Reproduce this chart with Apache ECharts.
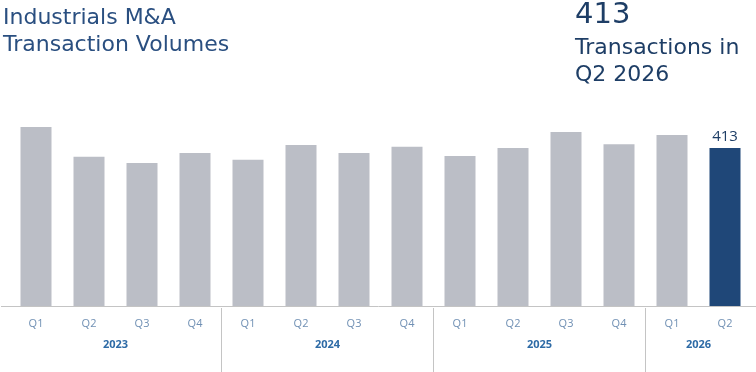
<!DOCTYPE html>
<html><head><meta charset="utf-8">
<script src="https://cdn.jsdelivr.net/npm/echarts@6/dist/echarts.min.js"></script>
<style>html,body{margin:0;padding:0;background:#fff}#c{width:756px;height:372px}</style>
</head><body><div id="c"></div>
<script>
const quarters = ['Q1','Q2','Q3','Q4','Q1','Q2','Q3','Q4','Q1','Q2','Q3','Q4','Q1','Q2'];
const years = ['2023','2024','2025','2026'];
const yearStart = [0,4,8,12];
const yearEnd = [3,7,11,13];
const volumes = [468,390,374,400,382,421,400,416,392,413,455,423,447,413];
const latestValue = 413;
const latestLabel = 'Q2 2026';

const grey = '#BBBEC6', navy = '#1F4778';
const chart = echarts.init(document.getElementById('c'), null, {renderer:'canvas'});
const font = '"Open Sans", sans-serif';
const tfont = '"DejaVu Sans", sans-serif';
chart.setOption({
  animation:false,
  title:[
    {text:'Industrials M&A\nTransaction Volumes', left:3, top:5, padding:0,
     textStyle:{fontFamily:tfont, fontSize:22, fontWeight:'normal', color:'#2A4F80', lineHeight:27}},
    {text:String(latestValue), left:575, top:1, padding:0,
     textStyle:{fontFamily:tfont, fontSize:29, fontWeight:'normal', color:'#1E3E66'}},
    {text:'Transactions in\n' + latestLabel, left:575, top:35, padding:0,
     textStyle:{fontFamily:tfont, fontSize:22, fontWeight:'normal', color:'#1E3E66', lineHeight:27}}
  ],
  grid:{left:9.5, right:4.5, top:114.7, bottom:66, containLabel:false},
  xAxis:{
    type:'category', data:quarters,
    axisLine:{show:false}, axisTick:{show:false},
    axisLabel:{interval:0, margin:12, fontFamily:font, fontSize:11, color:'#7090B4'}
  },
  yAxis:{type:'value', min:0, max:500, show:false, splitLine:{show:false}},
  series:[{
    type:'bar', data:volumes.map((v,i)=>({value:v, itemStyle:{color: i===volumes.length-1?navy:grey},
      label:{show:i===volumes.length-1}})),
    barWidth:31,
    label:{position:'top', distance:4, fontFamily:font, fontSize:15, color:'#1E3E66'}
  }]
});
const y0 = chart.convertToPixel({yAxisIndex:0}, 0);
const gr = [{type:'line', shape:{x1:1, y1:y0+0.5, x2:756, y2:y0+0.5}, style:{stroke:'#C4C4C4', lineWidth:1}, silent:true}];
years.forEach((y,k)=>{
  const xa = chart.convertToPixel({xAxisIndex:0}, yearStart[k]);
  const xb = chart.convertToPixel({xAxisIndex:0}, yearEnd[k]);
  gr.push({type:'text', x:(xa+xb)/2, y:y0+39, style:{text:y, fontFamily:font, fontSize:11, fontWeight:'bold', fill:'#2E6BA6', align:'center', verticalAlign:'middle'}, silent:true});
  if (k < years.length-1) {
    const xn = chart.convertToPixel({xAxisIndex:0}, yearStart[k+1]);
    const xs = Math.floor((xb+xn)/2) + 0.5;
    gr.push({type:'line', shape:{x1:xs, y1:y0+2, x2:xs, y2:372}, style:{stroke:'#C4C4C4', lineWidth:1}, silent:true});
  }
});
chart.setOption({graphic:gr});
</script></body></html>
